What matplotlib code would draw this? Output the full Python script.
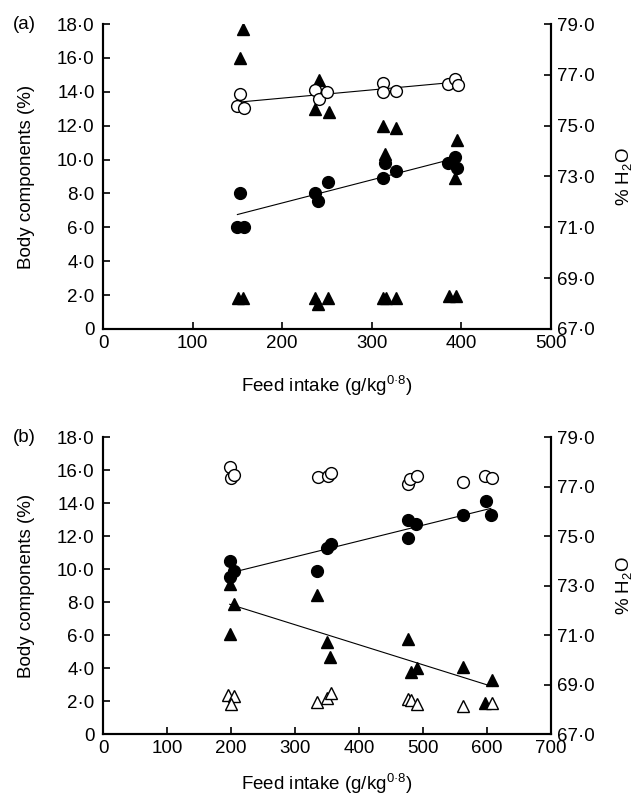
import matplotlib.pyplot as plt
import numpy as np
from matplotlib.ticker import FixedLocator, FuncFormatter

plt.rcParams['font.family'] = ['Liberation Sans', 'DejaVu Sans']
plt.rcParams['mathtext.fontset'] = 'custom'
plt.rcParams['mathtext.rm'] = 'Liberation Sans'
plt.rcParams['mathtext.it'] = 'Liberation Sans'

# ---- panel (a) ----
a_h2o_x = [153, 150, 157, 237, 241, 250, 313, 313, 327, 385, 393, 396]
a_h2o = [76.25, 75.78, 75.69, 76.40, 76.05, 76.33, 76.67, 76.33, 76.38, 76.64, 76.85, 76.60]
a_circ_x = [153, 150, 157, 237, 240, 251, 313, 315, 327, 385, 393, 395]
a_circ = [8.0, 6.0, 6.0, 8.05, 7.55, 8.7, 8.9, 9.8, 9.3, 9.8, 10.15, 9.5]
a_tri_x = [156, 153, 241, 237, 252, 313, 327, 315, 395, 393]
a_tri = [17.7, 16.0, 14.7, 13.0, 12.8, 12.0, 11.85, 10.3, 11.15, 8.9]
a_low_x = [151, 156, 237, 240, 251, 313, 316, 327, 386, 394]
a_low = [1.85, 1.85, 1.8, 1.5, 1.85, 1.85, 1.85, 1.85, 1.95, 1.95]

# ---- panel (b) ----
b_h2o_x = [198, 200, 204, 336, 351, 357, 476, 480, 490, 562, 597, 608]
b_h2o = [77.8, 77.33, 77.47, 77.37, 77.43, 77.53, 77.11, 77.3, 77.43, 77.17, 77.43, 77.33]
b_circ_x = [198, 205, 199, 335, 350, 356, 476, 477, 489, 562, 598, 606]
b_circ = [10.5, 9.9, 9.5, 9.9, 11.25, 11.5, 11.9, 13.0, 12.7, 13.3, 14.1, 13.3]
b_tri_x = [199, 204, 198, 335, 350, 355, 476, 481, 490, 562, 597, 608]
b_tri = [9.1, 7.85, 6.05, 8.4, 5.55, 4.65, 5.75, 3.75, 4.0, 4.05, 1.85, 3.25]
b_otri_x = [196, 204, 200, 335, 350, 356, 476, 481, 490, 562, 608]
b_otri = [2.38, 2.28, 1.84, 1.92, 2.18, 2.48, 2.12, 2.08, 1.84, 1.72, 1.88]

left_ticks = np.arange(0, 19, 2)
right_ticks = np.arange(67, 80, 2)
FS = 13.5


def dotfmt(v, pos):
    if v == 0:
        return '0'
    return ('%.1f' % v).replace('.', '\u00b7')


def fitline(ax, x, y):
    k, b = np.polyfit(x, y, 1)
    xs = np.array([min(x), max(x)])
    ax.plot(xs, k * xs + b, color='black', lw=0.8, zorder=1)


def setup(ax, xmax, label, xpad):
    ax2 = ax.twinx()
    ax.set_xlim(0, xmax)
    ax.set_ylim(0, 18)
    ax2.set_ylim(67, 79)
    ax.yaxis.set_major_locator(FixedLocator(left_ticks))
    ax.yaxis.set_major_formatter(FuncFormatter(dotfmt))
    ax2.yaxis.set_major_locator(FixedLocator(right_ticks))
    ax2.yaxis.set_major_formatter(FuncFormatter(dotfmt))
    ax.set_xticks(np.arange(0, xmax + 1, 100))
    for a in (ax, ax2):
        a.spines['top'].set_visible(False)
        for s in ('left', 'right', 'bottom'):
            a.spines[s].set_linewidth(1.5)
        a.tick_params(direction='in', length=5, width=1.2, labelsize=FS, colors='black')
    ax.tick_params(axis='y', pad=6)
    ax.tick_params(axis='x', pad=4)
    ax2.tick_params(axis='y', pad=4)
    ax.set_ylabel('Body components (%)', fontsize=FS, labelpad=16)
    ax2.set_ylabel('% H$_2$O', fontsize=FS, labelpad=14)
    ax.set_xlabel('Feed intake (g/kg$^{0\u00b78}$)', fontsize=FS, labelpad=xpad)
    ax.text(-0.15, 1.0, label, transform=ax.transAxes, fontsize=FS, va='center', ha='right')
    return ax2


fig = plt.figure(figsize=(6.37, 7.95), dpi=100)
axa = fig.add_axes([0.1617, 0.5862, 0.7033, 0.3836])
axb = fig.add_axes([0.1617, 0.0767, 0.7033, 0.3736])

ms = 8.5
a2 = setup(axa, 500, '(a)', 16)
axa.plot(a_tri_x, a_tri, '^', color='black', ms=ms, ls='none')
axa.plot(a_low_x, a_low, '^', color='black', ms=ms, ls='none')
axa.plot(a_circ_x, a_circ, 'o', color='black', ms=ms, ls='none')
fitline(axa, a_circ_x, a_circ)
a2.plot(a_h2o_x, a_h2o, 'o', mfc='white', mec='black', mew=1.0, ms=ms, ls='none', zorder=2)
fitline(a2, a_h2o_x, a_h2o)

b2 = setup(axb, 700, '(b)', 11)
axb.plot(b_tri_x, b_tri, '^', color='black', ms=ms, ls='none')
fitline(axb, b_tri_x, b_tri)
axb.plot(b_otri_x, b_otri, '^', mfc='white', mec='black', mew=1.0, ms=ms, ls='none')
axb.plot(b_circ_x, b_circ, 'o', color='black', ms=ms, ls='none')
fitline(axb, b_circ_x, b_circ)
b2.plot(b_h2o_x, b_h2o, 'o', mfc='white', mec='black', mew=1.0, ms=ms, ls='none')

fig.savefig('out.png', dpi=100)
